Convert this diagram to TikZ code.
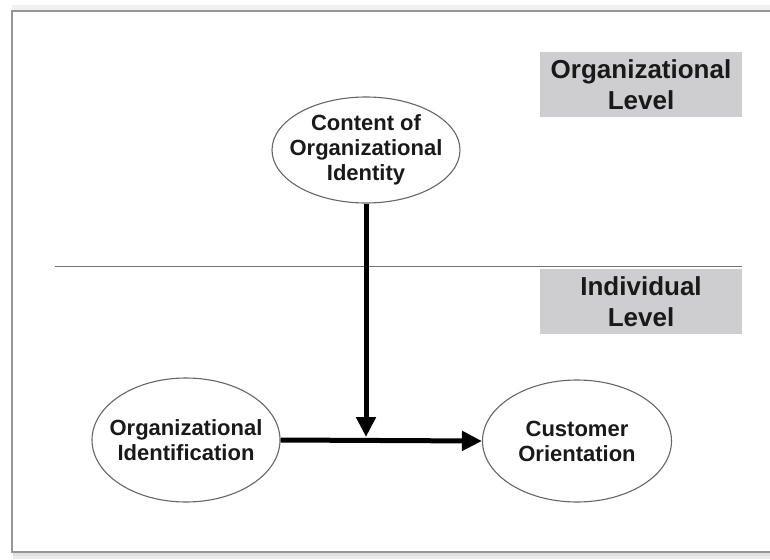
\documentclass[tikz,border=0pt]{standalone}
\usepackage{fontspec}
\setmainfont{Liberation Sans}
\usetikzlibrary{shapes.geometric,arrows.meta}
\definecolor{levelgray}{RGB}{206,206,208}
\definecolor{framegray}{RGB}{150,150,150}
\begin{document}
\begin{tikzpicture}[x=1pt,y=-1pt,
  construct/.style={draw=black!60, ellipse, line width=1.1pt, inner xsep=-14pt, inner ysep=0pt, align=center,
    font=\fontsize{22}{25}\selectfont\bfseries, text=black!90},
  levelbox/.style={fill=levelgray, minimum width=202pt, minimum height=65pt, inner sep=0pt,
    align=center, font=\fontsize{26}{31}\selectfont\bfseries, text=black!90},
  link/.style={line width=5pt, -{Triangle[length=20pt,width=19pt]}}]
  \useasboundingbox (0,0) rectangle (770,559);
  % frame with soft shadow
  \draw[black!8, line width=6pt] (13,556) -- (775,556);
  \draw[black!12, line width=3pt] (13,554) -- (775,554);
  \draw[black!6, line width=5pt] (12,8) -- (775,8);
  \draw[framegray, line width=1.3pt] (775,11) -- (12,11) -- (12,552) -- (775,552);
  % levels
  \node[levelbox] (orglevel) at (641,84.5) {Organizational\\Level};
  \node[levelbox] (indlevel) at (641,301.5) {Individual\\Level};
  \draw[black!55, line width=1pt] (55,266) -- (742,266);
  % constructs
  \node[construct, minimum width=188pt, minimum height=106pt] (content) at (366,150) {Content of\\Organizational\\Identity};
  \node[construct, minimum width=188pt, minimum height=124pt] (ident) at (186,440) {Organizational\\Identification};
  \node[construct, minimum width=189pt, minimum height=122pt] (cust) at (577,441) {Customer\\Orientation};
  \coordinate (hit) at (366,437);
  \draw[link] (ident.east) -- (cust.west);
  \draw[link] (content.south) -- (hit);
\end{tikzpicture}
\end{document}
